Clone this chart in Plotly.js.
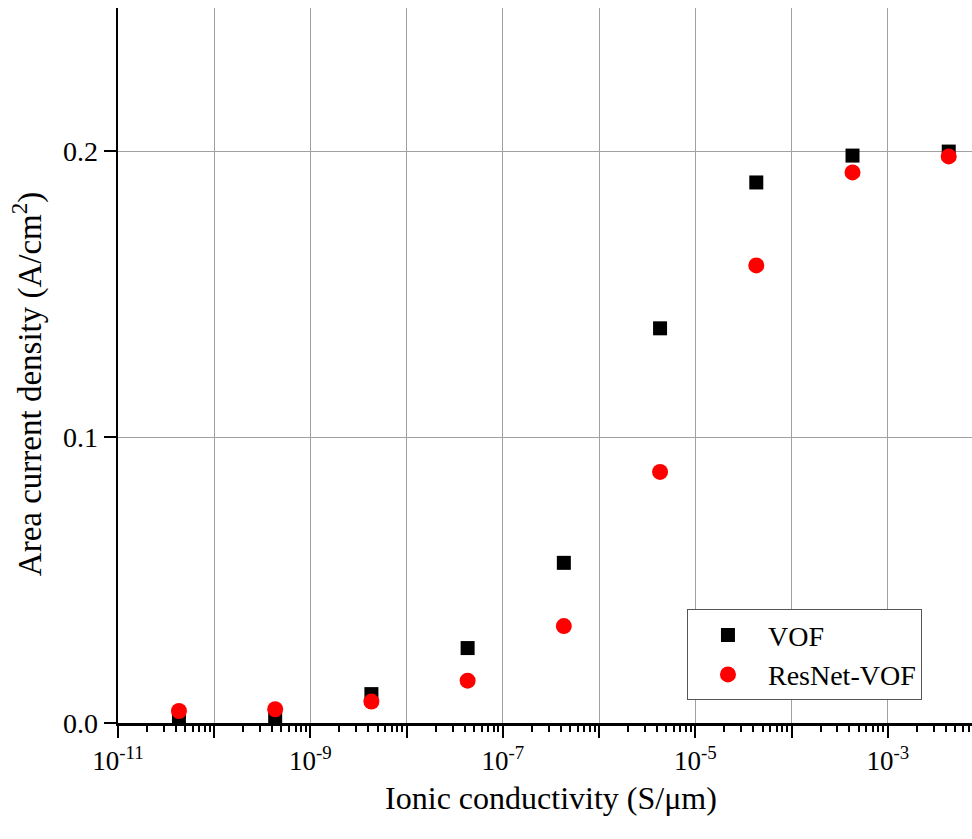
<!DOCTYPE html>
<html>
<head>
<meta charset="utf-8">
<script src="https://cdn.plot.ly/plotly-3.0.1.min.js"></script>
<style>
html,body{margin:0;padding:0;overflow:hidden;background:#fff;}
#chart{width:1000px;height:839px;}
</style>
</head>
<body>
<div id="chart"></div>
<script>
// Data
const conductivity = [4.3e-11, 4.3e-10, 4.3e-9, 4.3e-8, 4.3e-7, 4.3e-6, 4.3e-5, 4.3e-4, 4.3e-3];
const vofValues    = [0.0014, 0.0017, 0.0101, 0.0262, 0.0560, 0.1380, 0.1890, 0.1984, 0.1998];
const resnetValues = [0.0042, 0.0048, 0.0075, 0.0148, 0.0339, 0.0878, 0.1600, 0.1925, 0.1981];
const seriesNames  = ['VOF', 'ResNet-VOF'];
const xTickVals = [1e-11, 1e-10, 1e-9, 1e-8, 1e-7, 1e-6, 1e-5, 1e-4, 1e-3, 1e-2];
const xTickText = ['10<sup>-11</sup>', '', '10<sup>-9</sup>', '', '10<sup>-7</sup>', '', '10<sup>-5</sup>', '', '10<sup>-3</sup>', ''];
const yTickVals = [0, 0.1, 0.2];
const yTickText = ['0.0', '0.1', '0.2'];
const xTitle = 'Ionic conductivity (S/\u03bcm)';
const yTitle = 'Area current density (A/cm<sup>2</sup>)';

const font = 'Liberation Serif, Times New Roman, serif';

const traces = [
  {x: conductivity, y: vofValues, name: seriesNames[0], mode: 'markers', type: 'scatter',
   marker: {symbol: 'square', size: 14, color: '#000000'}},
  {x: conductivity, y: resnetValues, name: seriesNames[1], mode: 'markers', type: 'scatter',
   marker: {symbol: 'circle', size: 16, color: '#ff0000'}}
];

const axCommonX = {
  type: 'log', range: [-11, -2], showline: true, linecolor: '#000', linewidth: 2.5,
  tickcolor: '#000', tickwidth: 2, zeroline: false
};

const layout = {
  width: 1000, height: 839,
  margin: {l: 118, r: 16, t: 8, b: 116},
  paper_bgcolor: '#fff', plot_bgcolor: '#fff',
  font: {family: font, color: '#000'},
  showlegend: true,
  xaxis: Object.assign({}, axCommonX, {
    tickmode: 'array', tickvals: xTickVals, ticktext: xTickText,
    ticks: 'outside', ticklen: 12,
    showgrid: true, gridcolor: '#a0a0a0', gridwidth: 1,
    tickfont: {size: 27, family: font},
    minor: {ticks: 'outside', ticklen: 6, tickwidth: 2, tickcolor: '#000', dtick: 'D1', showgrid: false},
    title: {text: xTitle, font: {size: 32, family: font}, standoff: 12}
  }),
  xaxis2: Object.assign({}, axCommonX, {
    overlaying: 'x', side: 'top', anchor: 'y',
    tickmode: 'array', tickvals: xTickVals, showticklabels: false,
    ticks: 'inside', ticklen: 12, showgrid: false,
    minor: {ticks: 'inside', ticklen: 6, tickwidth: 2, tickcolor: '#000', dtick: 'D1', showgrid: false}
  }),
  yaxis: {
    range: [0, 0.25], showline: true, linecolor: '#000', linewidth: 2.5,
    tickmode: 'array', tickvals: yTickVals, ticktext: yTickText,
    ticks: 'outside', ticklen: 12, tickwidth: 2, tickcolor: '#000',
    showgrid: true, gridcolor: '#a0a0a0', gridwidth: 1, zeroline: false,
    tickfont: {size: 28, family: font}
  },
  yaxis2: {
    range: [0, 0.25], overlaying: 'y', side: 'right', anchor: 'x',
    showline: true, linecolor: '#000', linewidth: 2.5,
    tickmode: 'array', tickvals: yTickVals, showticklabels: false,
    ticks: 'inside', ticklen: 12, tickwidth: 2, tickcolor: '#000',
    showgrid: false, zeroline: false
  },
  annotations: [{
    text: yTitle, textangle: -90, showarrow: false,
    xref: 'paper', yref: 'paper', x: -0.105, y: 0.474,
    xanchor: 'center', yanchor: 'middle',
    font: {size: 33, family: font}
  }],
  legend: {
    x: 0.657, y: 0.159, xanchor: 'left', yanchor: 'top',
    bgcolor: '#fff', bordercolor: '#555', borderwidth: 1,
    itemwidth: 70,
    font: {size: 28, family: font}
  }
};

Plotly.newPlot('chart', traces, layout, {displayModeBar: false, staticPlot: true});
</script>
</body>
</html>
